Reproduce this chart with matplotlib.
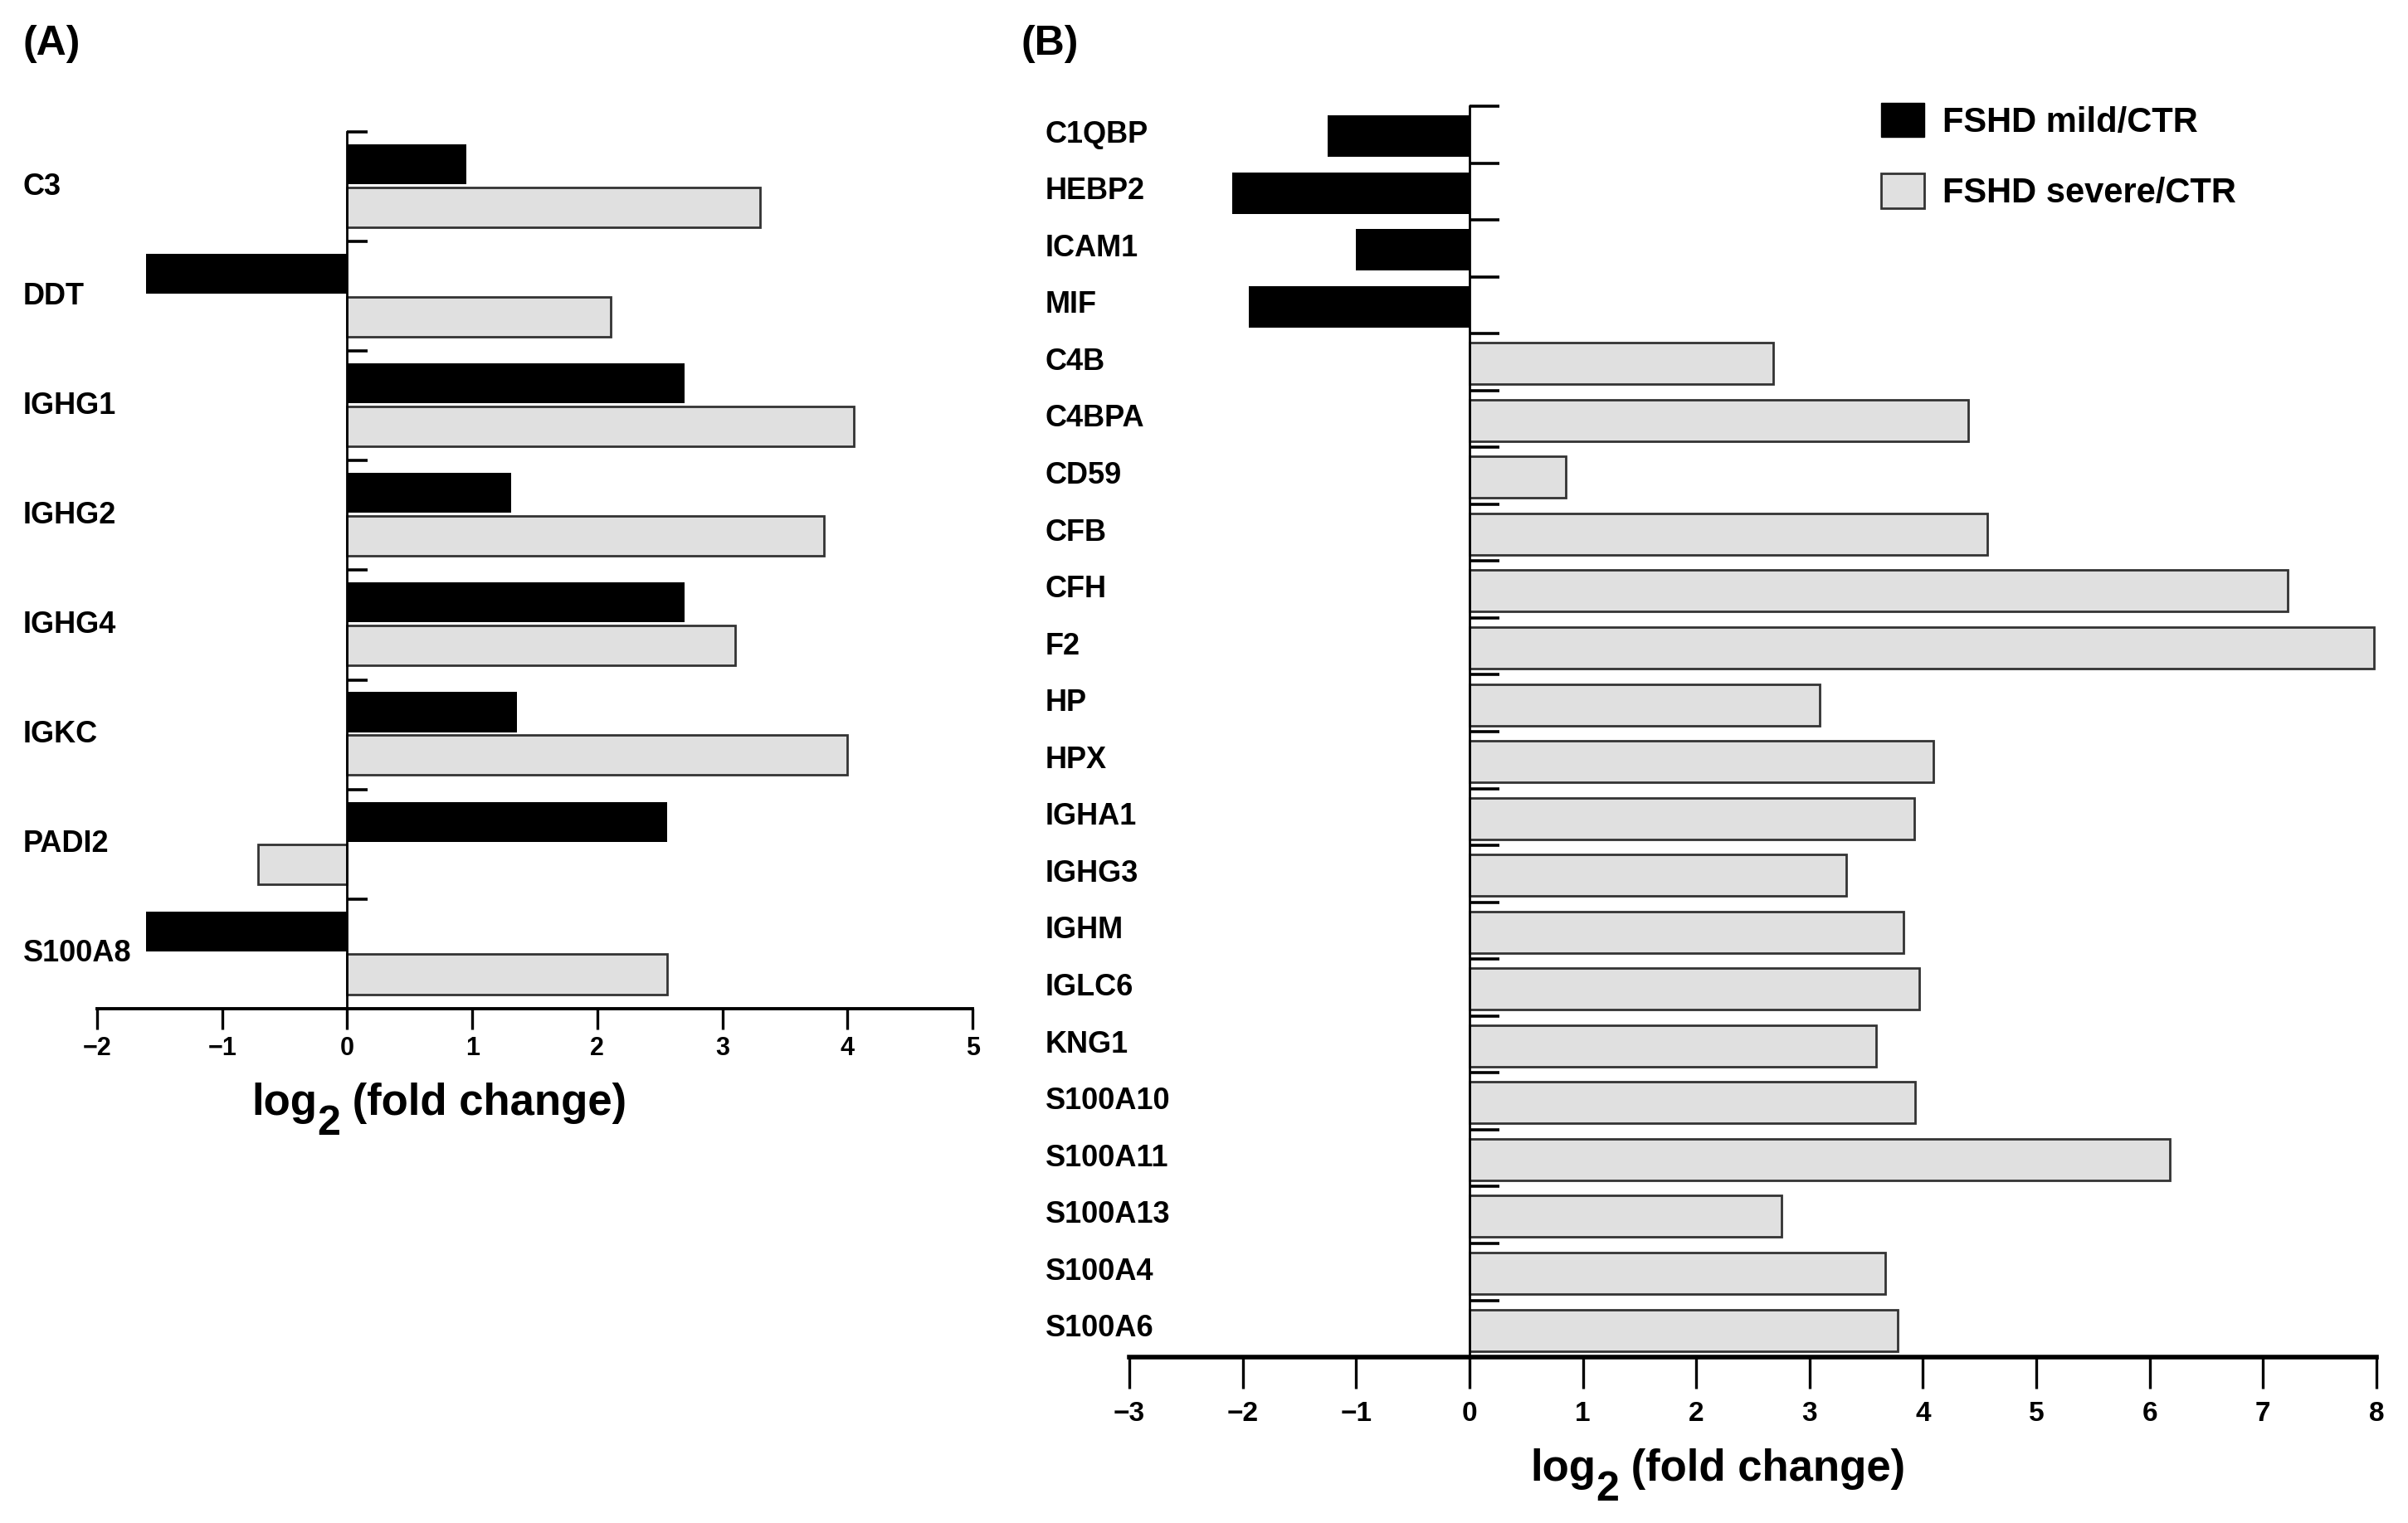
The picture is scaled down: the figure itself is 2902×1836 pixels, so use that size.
import numpy as np
import matplotlib
matplotlib.use("Agg")
import matplotlib.pyplot as plt
from matplotlib.patches import Patch
from matplotlib.transforms import blended_transform_factory

plt.rcParams['font.family'] = ['Liberation Sans', 'DejaVu Sans']
plt.rcParams['font.weight'] = 'bold'

# Panel A: both groups per gene
genes_a = ["C3", "DDT", "IGHG1", "IGHG2", "IGHG4", "IGKC", "PADI2", "S100A8"]
mild_a = [0.95, -1.61, 2.70, 1.31, 2.70, 1.36, 2.56, -1.61]
severe_a = [3.30, 2.11, 4.05, 3.81, 3.10, 4.00, -0.71, 2.56]

# Panel B: one value per gene, either mild or severe
genes_b = ["C1QBP", "HEBP2", "ICAM1", "MIF", "C4B", "C4BPA", "CD59", "CFB",
           "CFH", "F2", "HP", "HPX", "IGHA1", "IGHG3", "IGHM", "IGLC6", "KNG1",
           "S100A10", "S100A11", "S100A13", "S100A4", "S100A6"]
mild_b = [-1.25, -2.09, -1.00, -1.95] + [np.nan] * 18
severe_b = [np.nan] * 4 + [2.68, 4.40, 0.85, 4.57, 7.22, 7.98, 3.09, 4.09,
                           3.92, 3.32, 3.83, 3.97, 3.59, 3.93, 6.18, 2.75,
                           3.67, 3.78]

MILD_COLOR = "black"
SEVERE_COLOR = "#e0e0e0"
EDGE = "#333333"
DPI = 100


def style_axis(ax, xlim, n, ytick_len, xtick_len, xlabsize, xpad, bottom_lw):
    ax.set_xlim(*xlim)
    ax.set_ylim(n, 0)
    ax.spines['top'].set_visible(False)
    ax.spines['right'].set_visible(False)
    ax.spines['left'].set_position(('data', 0))
    ax.spines['left'].set_linewidth(2.0)
    ax.spines['bottom'].set_linewidth(bottom_lw)
    ax.spines['left'].set_zorder(5)
    ticks = range(int(xlim[0]), int(xlim[1]) + 1)
    ax.set_xticks(ticks)
    ax.set_xticklabels([str(v).replace("-", "\u2212") for v in ticks])
    ax.tick_params(axis='x', direction='out', length=xtick_len, width=2.4,
                   labelsize=xlabsize, pad=xpad)
    ax.set_yticks(range(n))
    ax.set_yticklabels([])
    ax.tick_params(axis='y', direction='in', length=ytick_len, width=2.6)
    ax.set_facecolor('none')


def log2_label(fig, ax, xc, yc, size):
    # "log" + big lowered "2" + " (fold change)", centred on (xc, yc) in axes coords
    r = fig.canvas.get_renderer()
    pieces = [("log", size, 0), ("2", size * 0.95, -0.45 * size), (" (fold change)", size, 0)]
    widths = []
    for txt, sz, _ in pieces:
        t = fig.text(0, 0, txt, fontsize=sz)
        widths.append(t.get_window_extent(renderer=r).width * 72 / DPI)
        t.remove()
    x = -sum(widths) / 2
    for (txt, sz, dy), w in zip(pieces, widths):
        ax.annotate(txt, xy=(xc, yc), xycoords='axes fraction', xytext=(x, dy),
                    textcoords='offset points', ha='left', va='baseline', fontsize=sz,
                    annotation_clip=False)
        x += w


fig = plt.figure(figsize=(29.02, 18.36), dpi=DPI)

# ---- panel A
axa = fig.add_axes([0.0403, 0.3377, 0.3636, 0.5757])
ya = np.arange(len(genes_a))
axa.barh(ya + 0.294, mild_a, height=0.364, color=MILD_COLOR, edgecolor=MILD_COLOR, linewidth=0)
axa.barh(ya + 0.686, severe_a, height=0.364, color=SEVERE_COLOR, edgecolor=EDGE, linewidth=2)
style_axis(axa, (-2, 5), len(genes_a), 18, 18, 22, 6, 2.8)
tra = blended_transform_factory(fig.transFigure, axa.transData)
for i, g in enumerate(genes_a):
    axa.text(0.0096, i + 0.5, g, transform=tra, ha='left', va='center', fontsize=26)
log2_label(fig, axa, 0.391, -0.121, 38)

# ---- panel B
axb = fig.add_axes([0.469, 0.1089, 0.5179, 0.8214])
yb = np.arange(len(genes_b))
m = ~np.isnan(mild_b)
s = ~np.isnan(severe_b)
axb.barh(yb[m] + 0.526, np.array(mild_b)[m], height=0.73, color=MILD_COLOR,
         edgecolor=MILD_COLOR, linewidth=0)
axb.barh(yb[s] + 0.526, np.array(severe_b)[s], height=0.73, color=SEVERE_COLOR,
         edgecolor=EDGE, linewidth=2)
style_axis(axb, (-3, 8), len(genes_b), 26, 27, 24, 11, 4.0)
trb = blended_transform_factory(fig.transFigure, axb.transData)
for i, g in enumerate(genes_b):
    axb.text(0.434, i + 0.5, g, transform=trb, ha='left', va='center', fontsize=26)
log2_label(fig, axb, 0.472, -0.099, 38)

# legend
handles = [Patch(facecolor=MILD_COLOR, edgecolor=MILD_COLOR, label="FSHD mild/CTR"),
           Patch(facecolor=SEVERE_COLOR, edgecolor=EDGE, linewidth=2, label="FSHD severe/CTR")]
fig.legend(handles=handles, loc='upper left', bbox_to_anchor=(0.7813, 0.9325),
           frameon=False, fontsize=30, handlelength=1.25, handleheight=1.15,
           handletextpad=0.53, labelspacing=1.0, borderpad=0, borderaxespad=0)

# panel letters
fig.text(0.0096, 0.971, "(A)", ha='left', va='center', fontsize=36)
fig.text(0.424, 0.971, "(B)", ha='left', va='center', fontsize=36)

fig.savefig("out.png", dpi=DPI)
